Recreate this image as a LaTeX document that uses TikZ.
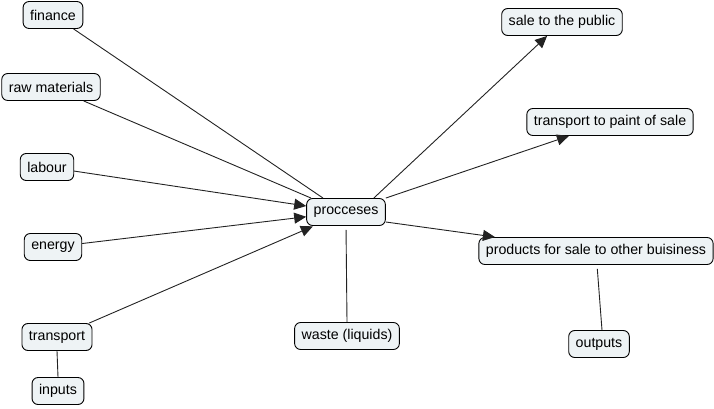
\documentclass[tikz,border=0pt]{standalone}
\usepackage{fontspec}
\setmainfont{Liberation Sans}
\usetikzlibrary{arrows.meta}
\definecolor{boxfill}{HTML}{EEF3F5}
\definecolor{linecol}{HTML}{222222}
\begin{document}
\begin{tikzpicture}[x=1pt,y=-1pt,
  concept/.style={draw=black,line width=0.9pt,fill=boxfill,rounded corners=6pt,
    minimum height=27pt,inner xsep=7pt,inner ysep=3pt,font=\fontsize{14.2}{16}\selectfont},
  link/.style={draw=linecol,line width=0.9pt},
  arr/.style={link,-{Triangle[length=12pt,width=11pt]}}]
\useasboundingbox (0,0) rectangle (714,409);
\node[concept] (finance) at (53,15) {finance};
\node[concept] (raw) at (51,87) {raw materials};
\node[concept] (labour) at (47,167) {labour};
\node[concept] (energy) at (53,247) {energy};
\node[concept] (transport) at (57,337) {transport};
\node[concept] (inputs) at (58,391) {inputs};
\node[concept] (proc) at (346,212) {procceses};
\node[concept] (waste) at (347,336) {waste (liquids)};
\node[concept] (sale) at (562,22) {sale to the public};
\node[concept] (tps) at (610,122) {transport to paint of sale};
\node[concept] (products) at (596,251) {products for sale to other buisiness};
\node[concept] (outputs) at (599,344) {outputs};

\draw[link] (finance) -- ([xshift=-23pt]proc.north);
\draw[link] (raw) -- ([xshift=-35pt]proc.north);
\draw[arr] (labour) -- (proc);
\draw[arr] (energy) -- (proc);
\draw[arr,shorten >=1pt] (transport) -- (proc);
\draw[arr] ([xshift=-12pt]proc.north east) -- (sale);
\draw[arr] (proc.north east) -- (tps);
\draw[arr] ([yshift=-10pt]proc.east) -- (products);
\draw[link,shorten <=4pt] (proc.south) -- (waste.north);
\draw[link,shorten <=4pt] ([xshift=1pt]products.south) -- ([xshift=3pt]outputs.north);
\draw[link] (transport.south) -- (inputs.north);
\end{tikzpicture}
\end{document}
